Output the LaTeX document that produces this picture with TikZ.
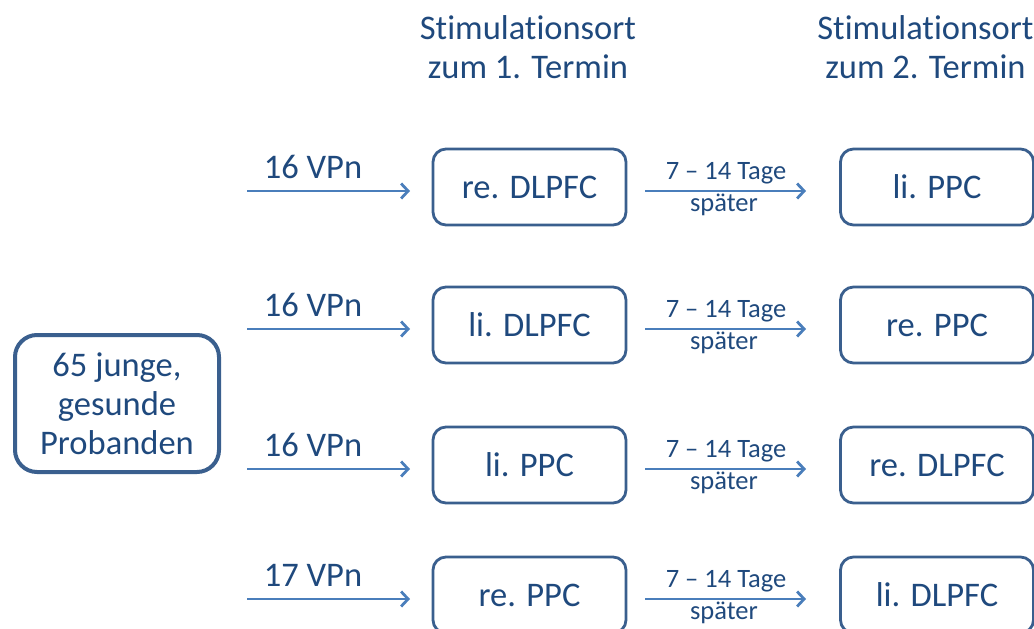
\documentclass[tikz,border=0pt]{standalone}
\usepackage{fontspec}
\setmainfont[Ligatures=NoCommon]{Carlito}
\usetikzlibrary{arrows.meta}

\definecolor{txtblue}{HTML}{1F497D}
\definecolor{boxblue}{HTML}{3A5F8E}
\definecolor{arrblue}{HTML}{4A7EBB}

\tikzset{
  big/.style={font=\fontsize{34.5}{39}\selectfont, text=txtblue, inner sep=0pt},
  small/.style={font=\fontsize{26.5}{30}\selectfont, text=txtblue, inner sep=0pt},
  sitebox/.style={draw=boxblue, line width=2.8pt, rounded corners=13pt,
    minimum width=193pt, minimum height=76pt, big},
  startbox/.style={draw=boxblue, line width=4pt, rounded corners=22pt,
    minimum width=204pt, minimum height=137pt, big, align=center},
  flow/.style={draw=arrblue, line width=2.8pt,
    -{Straight Barb[length=7pt, width=15pt, line width=2.8pt]}},
}

\begin{document}
\begin{tikzpicture}[x=1pt, y=-1pt]
  \useasboundingbox (0,0) rectangle (1034,629);

  % column headers
  \node[big, align=center] (h1) at (528,47) {Stimulationsort\\zum 1. Termin};
  \node[big, align=center] (h2) at (925.5,47) {Stimulationsort\\zum 2. Termin};

  % participant pool
  \node[startbox] (pool) at (117,403.5) {65 junge,\\gesunde\\Probanden};

  % four groups: first and second stimulation site
  \foreach \i/\y/\n/\first/\second in {
      1/187/16/re. DLPFC/li. PPC,
      2/325/16/li. DLPFC/re. PPC,
      3/465/16/li. PPC/re. DLPFC,
      4/595/17/re. PPC/li. DLPFC} {
    \node[sitebox] (s\i a) at (529.5,\y) {\first};
    \node[sitebox] (s\i b) at (937,\y) {\second};
    \coordinate (in\i) at (247,\y+4);
    \coordinate (ta\i) at (433,\y+4);
    \draw[flow, shorten >=23pt] (in\i) -- (ta\i);
    \node[big] (n\i) at (313,\y-20) {\n\ VPn};
    \coordinate (fa\i) at (626,\y+4);
    \coordinate (fb\i) at (841,\y+4);
    \draw[flow, shorten <=19pt, shorten >=35pt] (fa\i) -- (fb\i);
    \node[small] (t\i) at (726,\y-14) {7 – 14 Tage};
    \node[small] (l\i) at (724,\y+18) {später};
  }
\end{tikzpicture}
\end{document}
